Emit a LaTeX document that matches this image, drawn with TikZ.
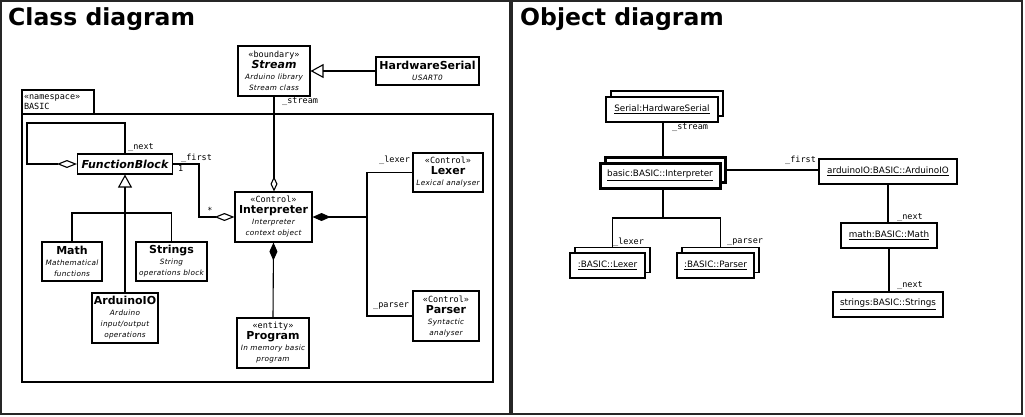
\documentclass[tikz,border=0pt]{standalone}
\usepackage{fontspec}
\setmainfont{DejaVu Sans}
\newfontfamily\monof{DejaVu Sans Mono}
\newfontfamily\descf{DejaVu Sans}[LetterSpace=4]
\usetikzlibrary{arrows.meta}
\newcommand\sterx[1]{{\monof\fontsize{8.5}{9}\selectfont «#1»}}
\newcommand\cname[1]{{\fontsize{11}{12}\selectfont\bfseries #1}}
\newcommand\descx[1]{{\descf\fontsize{7.3}{8}\selectfont\itshape #1}}
\begin{document}
\begin{tikzpicture}[x=1pt,y=-1pt,
  ln/.style={line width=1.1pt, draw=black},
  cls/.style={ln, fill=white, align=center, inner sep=1pt, font=\fontsize{8}{11}\selectfont},
  obj/.style={ln, fill=white, inner sep=1pt, font=\fontsize{8.8}{10}\selectfont},
  objthick/.style={obj, line width=3pt},
  lbl/.style={font=\monof\fontsize{8.5}{9}\selectfont, inner sep=0pt, anchor=west},
  title/.style={font=\fontsize{23.5}{26}\selectfont\bfseries, inner sep=0pt, anchor=base west},
  frame/.style={line width=1.3pt, draw=black!85},
  aggo/.style={ln, {Diamond[open, length=20pt, width=8pt]}-},
  aggs/.style={ln, -{Diamond[open, length=15pt, width=7pt]}},
  compo/.style={ln, {Diamond[length=18pt, width=8pt]}-},
  gen/.style={ln, -{Triangle[open, length=13pt, width=14pt]}},
  genrev/.style={ln, {Triangle[open, length=13pt, width=14pt]}-}
]
\useasboundingbox (0,0) rectangle (1025,416);
% panels
\draw[frame] (1,1) rectangle (510,414);
\draw[frame] (512,1) rectangle (1022,414);
\node[title] (t1) at (8,25) {Class diagram};
\node[title] (t2) at (520,25) {Object diagram};

% ---------- Class diagram ----------
\draw[ln] (22,114) rectangle (493,382);
\node[ln, fill=white, minimum width=72pt, minimum height=24pt, text width=68pt, align=left, inner sep=2pt,
      font=\monof\fontsize{8.5}{10}\selectfont] (ns) at (58,102) {«namespace»\\BASIC};

\node[cls, minimum width=72pt, minimum height=50pt] (stream) at (274,71)
  {\sterx{boundary}\\{\fontsize{11}{12}\selectfont\bfseries\itshape Stream}\\\descx{Arduino library}\\\descx{Stream class}};
\node[cls, minimum width=103pt, minimum height=28pt] (hws) at (427.5,71)
  {\cname{HardwareSerial}\\\descx{USART0}};
\node[cls, minimum width=95pt, minimum height=20pt] (fb) at (125,164)
  {{\fontsize{11}{12}\selectfont\bfseries\itshape FunctionBlock}};
\node[cls, minimum width=77pt, minimum height=50pt] (interp) at (273.5,217)
  {\sterx{Control}\\\cname{Interpreter}\\\descx{Interpreter}\\\descx{context object}};
\node[cls, minimum width=70pt, minimum height=39pt] (lexer) at (448,172.5)
  {\sterx{Control}\\\cname{Lexer}\\\descx{Lexical analyser}};
\node[cls, minimum width=66pt, minimum height=50pt] (parser) at (446,316)
  {\sterx{Control}\\\cname{Parser}\\\descx{Syntactic}\\\descx{analyser}};
\node[cls, minimum width=72pt, minimum height=50pt] (prog) at (273,343)
  {\sterx{entity}\\\cname{Program}\\\descx{In memory basic}\\\descx{program}};
\node[cls, minimum width=60pt, minimum height=39pt] (math) at (72,261.5)
  {\cname{Math}\\\descx{Mathematical}\\\descx{functions}};
\node[cls, minimum width=71pt, minimum height=39pt] (strings) at (171.5,261.5)
  {\cname{Strings}\\\descx{String}\\\descx{operations block}};
\node[cls, minimum width=66pt, minimum height=50pt] (ard) at (125,318)
  {\cname{ArduinoIO}\\\descx{Arduino}\\\descx{input/output}\\\descx{operations}};

% connectors
\draw[gen] (hws.west) -- (hws.west -| stream.east);
\draw[aggs] (stream.south) -- (stream.south |- interp.north);
\coordinate (lp) at (27,123);
\draw[aggo] (fb.west) -| (lp) -| (fb.north);
\coordinate (fk) at (199,217);
\draw[ln, -{Diamond[open, length=20pt, width=8pt]}] (fb.east) -| (fk) -- (interp.west);
\coordinate (jn) at (367,217);
\draw[compo] (interp.east) -- (jn) |- (lexer.west);
\draw[ln] (jn) |- (parser.west);
\draw[compo] (interp.south) -- (prog.north);
\coordinate (gj) at (125,213);
\draw[genrev] (fb.south) -- (ard.north);
\draw[ln] (math.north) |- (gj) -| (strings.north);

\node[lbl] (l1) at (128,148) {\_next};
\node[lbl] (l2) at (181,158) {\_first};
\node[lbl] (l3) at (178,168) {1};
\node[lbl, anchor=center] (l4) at (210,210) {*};
\node[lbl] (l5) at (282,102) {\_stream};
\node[lbl] (l6) at (379,160) {\_lexer};
\node[lbl] (l7) at (373,306) {\_parser};

% ---------- Object diagram ----------
\node[obj, minimum width=112pt, minimum height=25pt] (sbk) at (667,103.5) {};
\node[obj, minimum width=112pt, minimum height=25pt] (serial) at (662,109.5) {\underline{Serial:HardwareSerial}};
\node[objthick, minimum width=120pt, minimum height=25pt] (ibk) at (665,170) {};
\node[objthick, minimum width=120pt, minimum height=25pt] (iobj) at (660,175.5) {\underline{basic:BASIC::Interpreter}};
\node[obj, minimum width=138pt, minimum height=25pt] (ardo) at (888,171.5) {\underline{arduinoIO:BASIC::ArduinoIO}};
\node[obj, minimum width=96pt, minimum height=25pt] (matho) at (889,235.5) {\underline{math:BASIC::Math}};
\node[obj, minimum width=110pt, minimum height=25pt] (stro) at (888,304.5) {\underline{strings:BASIC::Strings}};
\node[obj, minimum width=75pt, minimum height=25pt] (lxb) at (612.5,260) {};
\node[obj, minimum width=75pt, minimum height=25pt] (lxo) at (607.5,265.5) {\underline{:BASIC::Lexer}};
\node[obj, minimum width=77pt, minimum height=25pt] (pxb) at (720.5,260) {};
\node[obj, minimum width=77pt, minimum height=25pt] (pxo) at (715.5,265.5) {\underline{:BASIC::Parser}};

\draw[ln] (serial.south -| 663,0) -- (ibk.north -| 663,0);
\coordinate (oj) at (663,218);
\draw[ln] (iobj.south -| oj) -- (oj);
\draw[ln] (lxb.north) |- (oj) -| (pxb.north);
\draw[ln] (ibk.east) -- (ibk.east -| ardo.west);
\draw[ln] (ardo.south) -- (ardo.south |- matho.north);
\draw[ln] (matho.south) -- (matho.south |- stro.north);

\node[lbl] (m1) at (672,128) {\_stream};
\node[lbl] (m2) at (785,160) {\_first};
\node[lbl] (m3) at (897,218) {\_next};
\node[lbl] (m4) at (897,286) {\_next};
\node[lbl] (m5) at (613,242) {\_lexer};
\node[lbl] (m6) at (727,242) {\_parser};
\end{tikzpicture}
\end{document}
